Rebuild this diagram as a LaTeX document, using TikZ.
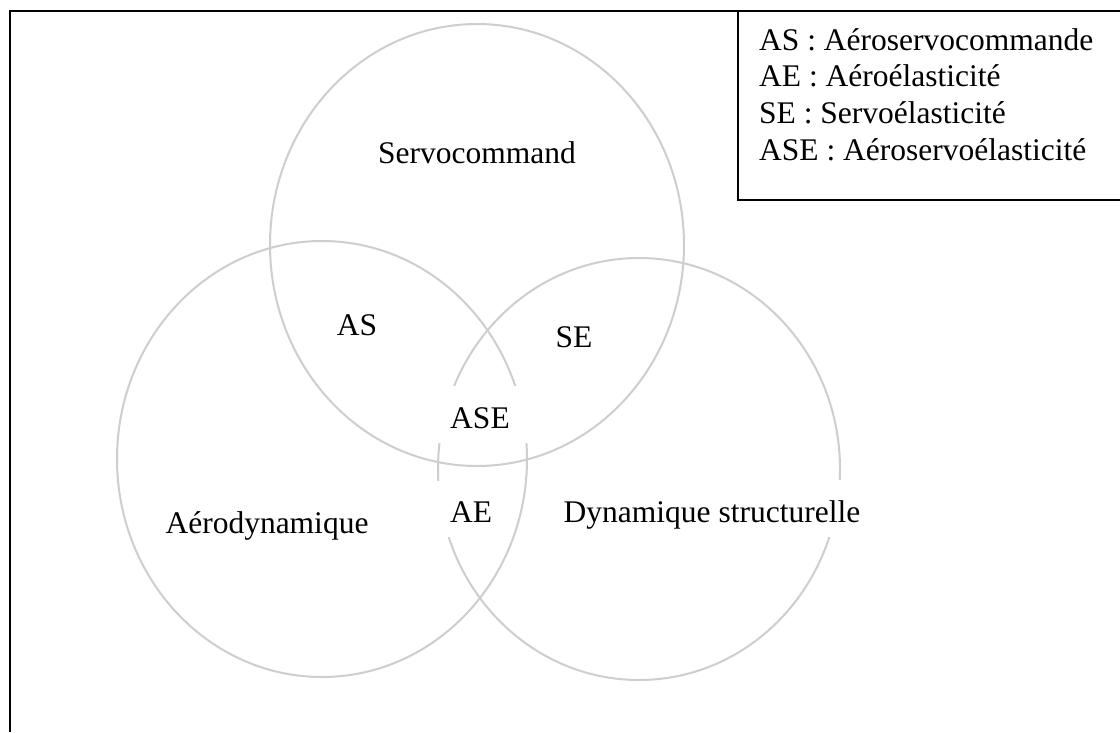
\documentclass[tikz,border=0pt]{standalone}
\usepackage{fontspec}
\setmainfont{Liberation Serif}
\definecolor{ringgray}{RGB}{206,206,206}
\begin{document}
\begin{tikzpicture}[x=1pt,y=-1pt,
  ring/.style={draw=ringgray, line width=2pt},
  frameline/.style={draw=black, line width=2pt},
  mask/.style={fill=white, draw=none, inner sep=0pt},
  lbl/.style={anchor=base, inner sep=0pt, font=\fontsize{31.5}{36.7}\selectfont},
  legendline/.style={anchor=base west, inner sep=0pt, font=\fontsize{31.5}{36.7}\selectfont}]
\useasboundingbox (0,0) rectangle (1120,732);
\fill[white] (0,0) rectangle (1120,732);

% the three domains
\draw[ring] (477,245) ellipse [x radius=207pt, y radius=221pt];
\draw[ring] (322,459) ellipse [x radius=205pt, y radius=218pt];
\draw[ring] (639,469) ellipse [x radius=201pt, y radius=211pt];

% white text boxes that cut the rings
\node[mask, minimum width=94pt, minimum height=57pt] (boxASE) at (483,414.5) {};
\node[mask, minimum width=73pt, minimum height=56pt] (boxAE) at (468,509) {};
\node[mask, minimum width=320pt, minimum height=57pt] (boxDS) at (712,508.5) {};

% labels
\node[lbl] (serv) at (477,163) {Servocommand};
\node[lbl] (as) at (357,335) {AS};
\node[lbl] (se) at (574,347) {SE};
\node[lbl] (ase) at (480,428) {ASE};
\node[lbl] (ae) at (471,522) {AE};
\node[lbl] (aero) at (267,533) {Aérodynamique};
\node[lbl] (dyn) at (712,522) {Dynamique structurelle};

% outer frame
\draw[frameline] (10,732) |- (1120,11);

% legend box
\draw[frameline] (738,11) |- (1120,200);
\node[legendline] (l1) at (759,50) {AS : Aéroservocommande};
\node[legendline] (l2) at (759,86.7) {AE : Aéroélasticité};
\node[legendline] (l3) at (759,123.4) {SE : Servoélasticité};
\node[legendline] (l4) at (759,160.1) {ASE : Aéroservoélasticité};
\end{tikzpicture}
\end{document}
